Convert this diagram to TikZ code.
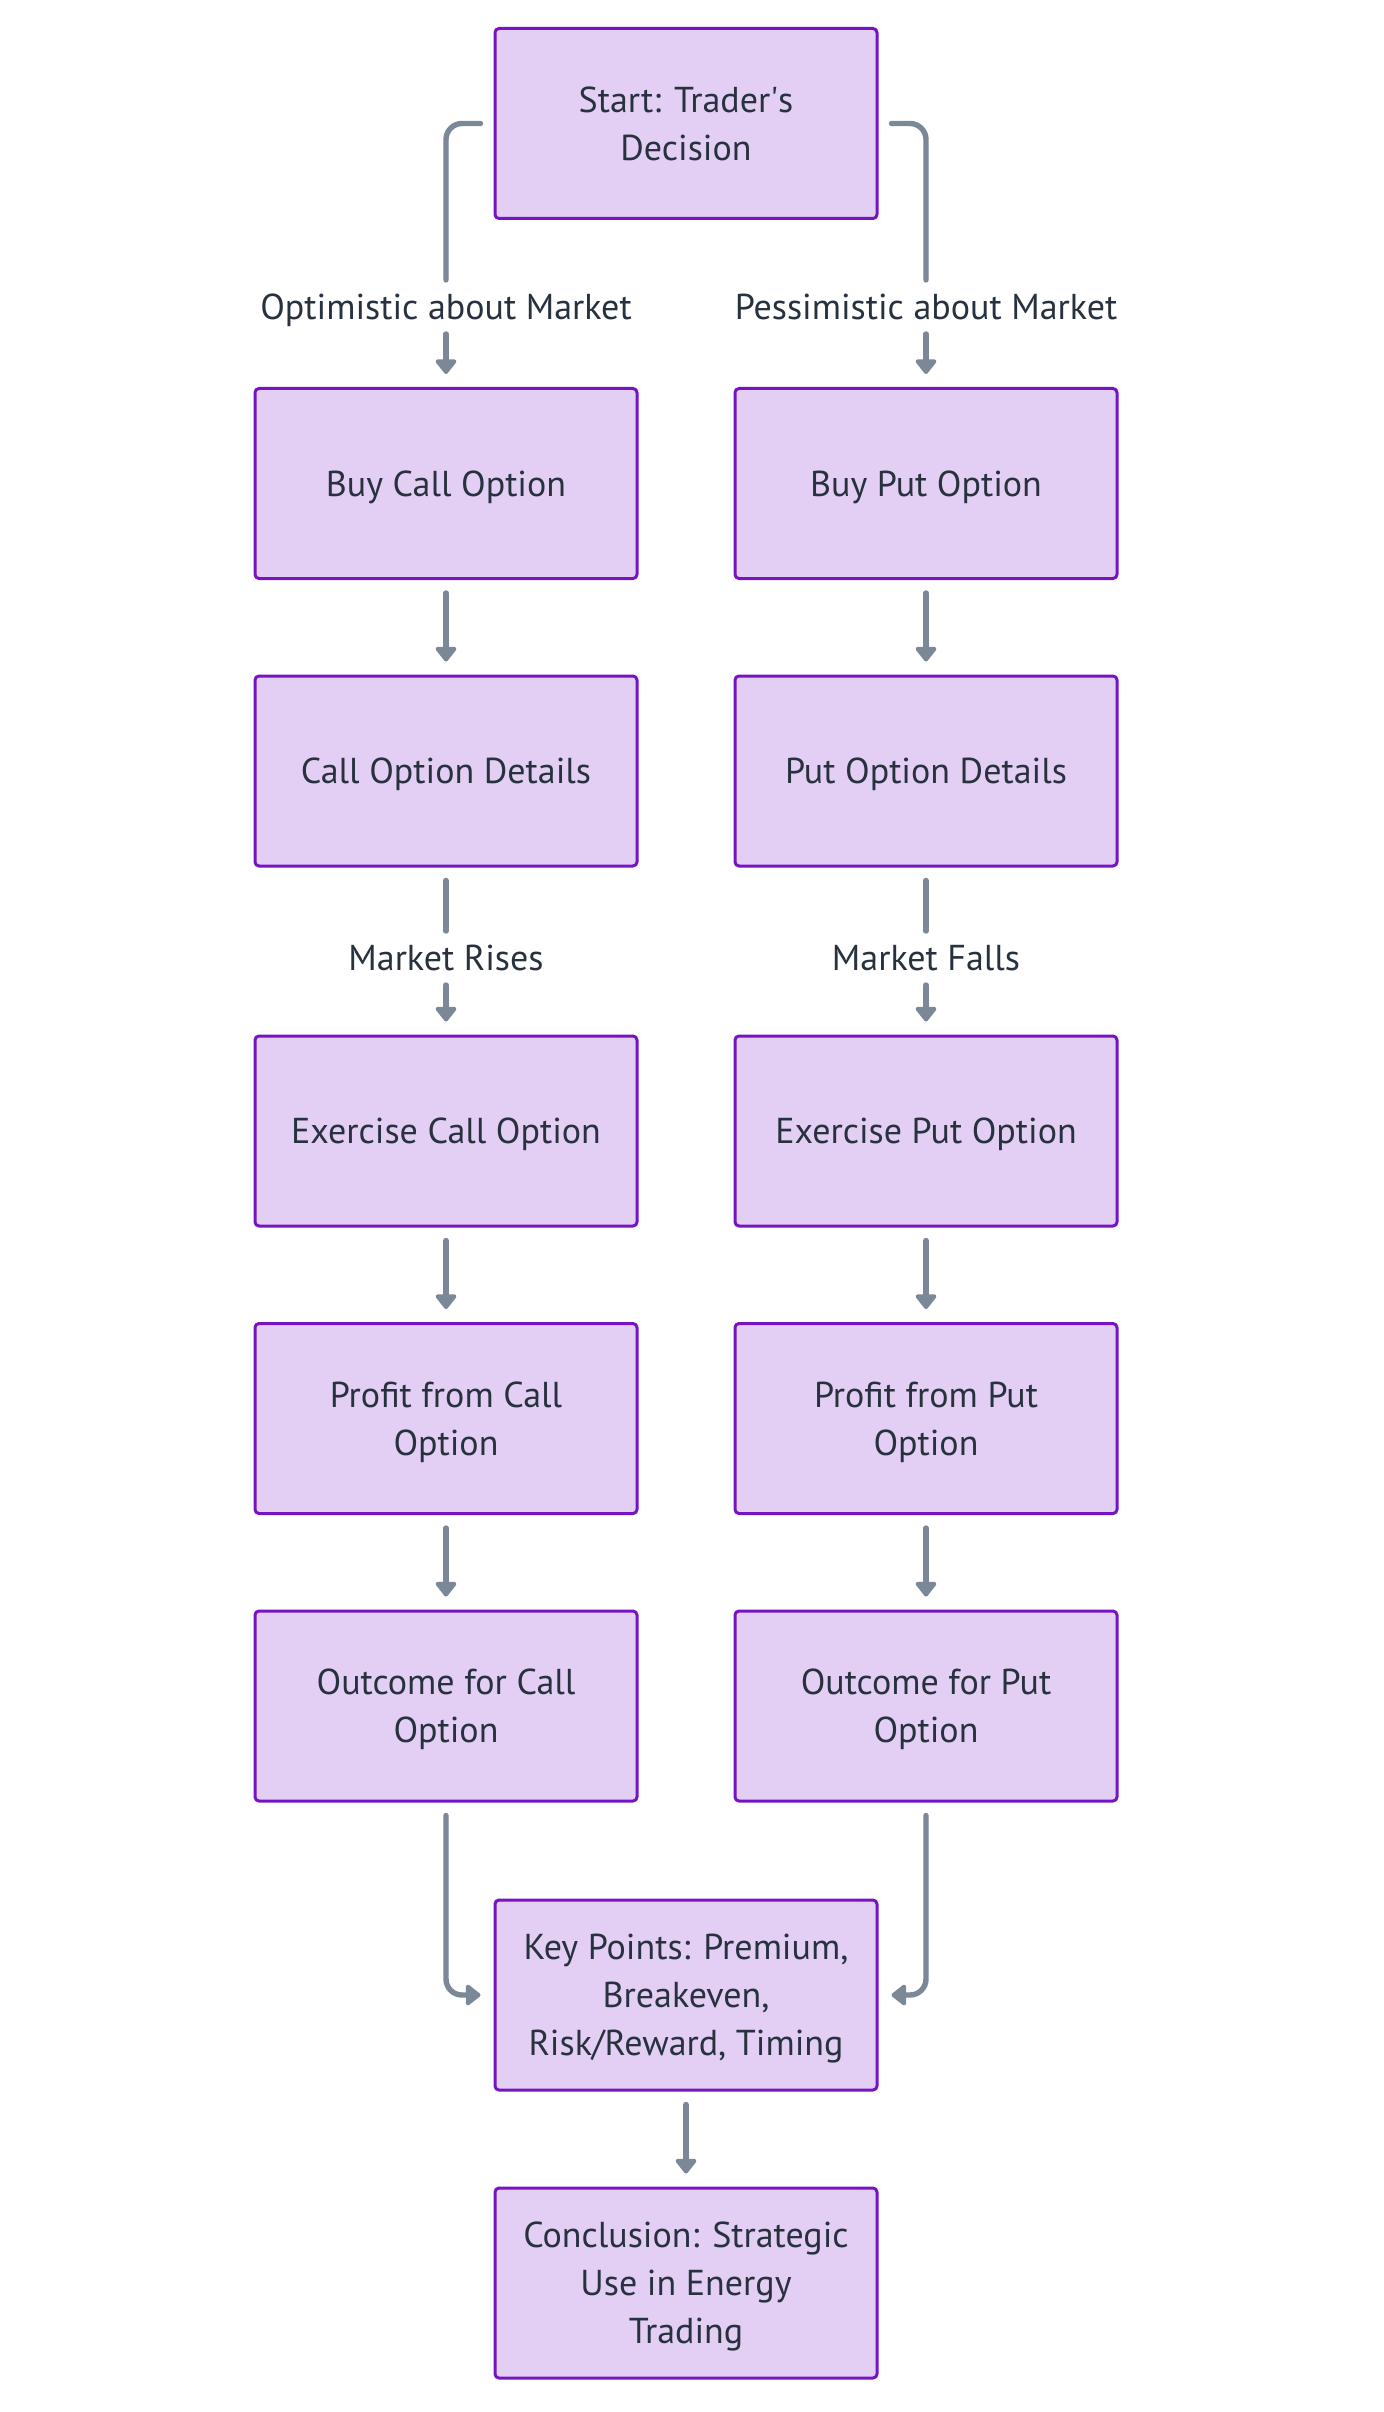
\documentclass[tikz,border=0pt]{standalone}
\usepackage{fontspec}
\setmainfont{PT Sans}
\usepackage{tikz}
\usetikzlibrary{calc,arrows.meta,positioning}
\definecolor{boxfill}{HTML}{E2CFF3}
\definecolor{boxline}{HTML}{7614C4}
\definecolor{arrowgray}{HTML}{7A8898}
\definecolor{txt}{HTML}{28323F}

\begin{document}
\begin{tikzpicture}[line cap=round,line join=round,x=0.5pt,y=-0.5pt,
  stepbox/.style={draw=boxline,fill=boxfill,line width=1.5pt,rounded corners=2pt,
    minimum width=191pt,minimum height=95pt,align=center,text=txt,
    font=\fontsize{18}{24}\selectfont,text depth=0pt,outer sep=7.25pt},
  lbl/.style={text=txt,font=\fontsize{18}{24}\selectfont,inner sep=0pt,
    text height=12.5pt,text depth=0pt,minimum height=27pt,outer sep=0pt},
  link/.style={draw=arrowgray,line width=2.7pt},
  flow/.style={link,-{Triangle[width=12pt,length=8pt,round]}}]
\useasboundingbox[fill=white] (0,0) rectangle (1384,2412);

\node[stepbox] (start) at (686,123.5) {Start: Trader\textquotesingle s\\Decision};
\node[lbl] (opt) at (446,307) {Optimistic about Market};
\node[lbl] (pes) at (926,307) {Pessimistic about Market};

\node[stepbox] (buycall) at (446,483.5) {Buy Call Option};
\node[stepbox] (buyput) at (926,483.5) {Buy Put Option};
\node[stepbox] (calldet) at (446,771) {Call Option Details};
\node[stepbox] (putdet) at (926,771) {Put Option Details};

\node[lbl] (rises) at (446,958) {Market Rises};
\node[lbl] (falls) at (926,958) {Market Falls};

\node[stepbox] (exccall) at (446,1131) {Exercise Call Option};
\node[stepbox] (excput) at (926,1131) {Exercise Put Option};
\node[stepbox] (profcall) at (446,1418.5) {Profit from Call\\Option};
\node[stepbox] (profput) at (926,1418.5) {Profit from Put\\Option};
\node[stepbox] (outcall) at (446,1706) {Outcome for Call\\Option};
\node[stepbox] (output) at (926,1706) {Outcome for Put\\Option};

\node[stepbox] (keypts) at (686,1995) {Key Points: Premium,\\Breakeven,\\Risk/Reward, Timing};
\node[stepbox] (concl) at (686,2283) {Conclusion: Strategic\\Use in Energy\\Trading};

% branches
\draw[link,rounded corners=8pt] (start.west) -| (opt.north);
\draw[link,rounded corners=8pt] (start.east) -| (pes.north);
\draw[flow] (opt) -- (buycall);
\draw[flow] (pes) -- (buyput);
\draw[link] (calldet) -- (rises);
\draw[link] (putdet) -- (falls);
\draw[flow] (rises) -- (exccall);
\draw[flow] (falls) -- (excput);

\foreach \a/\b in {buycall/calldet,buyput/putdet,exccall/profcall,excput/profput,
  profcall/outcall,profput/output,keypts/concl}
{
    \draw[flow] (\a) -- (\b);
};

\draw[flow,rounded corners=8pt] (outcall.south) |- (keypts.west);
\draw[flow,rounded corners=8pt] (output.south) |- (keypts.east);
\end{tikzpicture}
\end{document}
